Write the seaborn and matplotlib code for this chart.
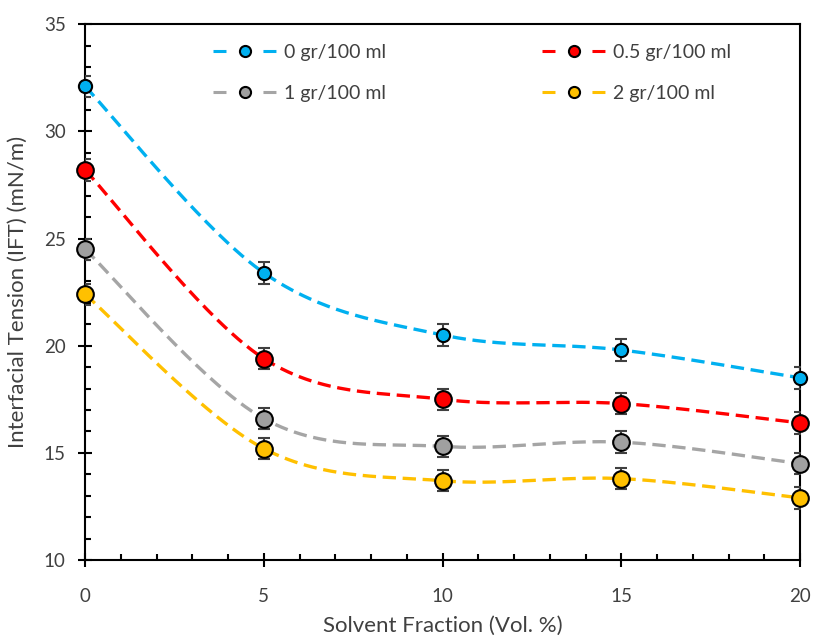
import numpy as np
import pandas as pd
import matplotlib
matplotlib.use("Agg")
import matplotlib.pyplot as plt
from matplotlib.lines import Line2D
from matplotlib.ticker import MultipleLocator
import seaborn as sns

# Measured interfacial tension vs. solvent fraction
solvent_fraction = [0, 5, 10, 15, 20]
ift_0 = [32.1, 23.4, 20.5, 19.8, 18.5]
ift_05 = [28.2, 19.4, 17.5, 17.3, 16.4]
ift_1 = [24.5, 16.6, 15.3, 15.5, 14.5]
ift_2 = [22.4, 15.2, 13.7, 13.8, 12.9]
ift_err = [0.5, 0.5, 0.5, 0.5, 0.5]
labels = ["0 gr/100 ml", "0.5 gr/100 ml", "1 gr/100 ml", "2 gr/100 ml"]

line_colors = ["#00B0F0", "#FF0000", "#A5A5A5", "#FFC000"]
face_colors = ["#00B0F0", "#FF0000", "#A0A0A0", "#FFC000"]
marker_sizes = [9.5, 12, 12, 12]


def smooth_curve(x, y, n=60):
    """Cardinal (Catmull-Rom) Bezier smoothing through the points."""
    x = np.asarray(x, float)
    y = np.asarray(y, float)
    pts = np.column_stack([x, y])
    out = []
    for i in range(len(pts) - 1):
        p0 = pts[i - 1] if i > 0 else pts[i]
        p1 = pts[i]
        p2 = pts[i + 1]
        p3 = pts[i + 2] if i + 2 < len(pts) else pts[i + 1]
        c1 = p1 + (p2 - p0) / 6.0
        c2 = p2 - (p3 - p1) / 6.0
        t = np.linspace(0, 1, n)[:, None]
        seg = ((1 - t) ** 3) * p1 + 3 * ((1 - t) ** 2) * t * c1 + 3 * (1 - t) * t ** 2 * c2 + t ** 3 * p2
        out.append(seg if i == 0 else seg[1:])
    seg = np.vstack(out)
    return seg[:, 0], seg[:, 1]


sns.set_style("white")
plt.rcParams["font.family"] = ["Lato", "DejaVu Sans"]

fig = plt.figure(figsize=(8.13, 6.35), dpi=100)
ax = fig.add_axes([0.1046, 0.118, 0.8795, 0.844])

series = [ift_0, ift_05, ift_1, ift_2]
for vals, lab, lc, fc, ms in zip(series, labels, line_colors, face_colors, marker_sizes):
    xs, ys = smooth_curve(solvent_fraction, vals)
    curve = pd.DataFrame({"x": xs, "y": ys})
    sns.lineplot(data=curve, x="x", y="y", ax=ax, color=lc, linewidth=2.4,
                 dashes=False, sort=False, estimator=None, zorder=2)
    ax.lines[-1].set_dashes((4.0, 2.0))
    ax.errorbar(solvent_fraction, vals, yerr=ift_err, fmt="none", ecolor="#404040",
                elinewidth=1.5, capsize=4.5, capthick=1.5, zorder=3)
    pts = pd.DataFrame({"x": solvent_fraction, "y": vals})
    sns.scatterplot(data=pts, x="x", y="y", ax=ax, color=fc, s=ms ** 2,
                    edgecolor="black", linewidth=1.5, zorder=4, clip_on=False)

ax.set_xlim(0, 20)
ax.set_ylim(10, 35)
ax.xaxis.set_major_locator(MultipleLocator(5))
ax.xaxis.set_minor_locator(MultipleLocator(1))
ax.yaxis.set_major_locator(MultipleLocator(5))
ax.yaxis.set_minor_locator(MultipleLocator(1))
ax.tick_params(which="major", direction="inout", length=10, width=1.5, color="black",
               labelsize=13.5, labelcolor="#404040", left=True, bottom=True)
ax.tick_params(axis="x", which="major", pad=15)
ax.tick_params(axis="y", which="major", pad=9)
ax.tick_params(which="minor", direction="in", length=4.5, width=1.5, color="black",
               left=True, bottom=True)
for sp in ax.spines.values():
    sp.set_color("black")
    sp.set_linewidth(1.5)

ax.set_xlabel("Solvent Fraction (Vol. %)", fontsize=16, color="#404040", labelpad=8)
ax.set_ylabel("Interfacial Tension (IFT) (mN/m)", fontsize=16, color="#404040", labelpad=11)

handles = []
for lc, fc in zip(line_colors, face_colors):
    h = Line2D([], [], color=lc, linewidth=2.2, dashes=(4.25, 12.1), marker="o",
               markersize=8, markerfacecolor=fc, markeredgecolor="black",
               markeredgewidth=1.5)
    handles.append(h)
order = [0, 2, 1, 3]
leg = ax.legend([handles[i] for i in order], [labels[i] for i in order], ncol=2,
                loc="upper left", bbox_to_anchor=(0.179, 0.963), frameon=False,
                fontsize=14, handlelength=3.25, handletextpad=0.42, columnspacing=8.0,
                labelspacing=1.25, numpoints=1, borderpad=0, borderaxespad=0)
for t in leg.get_texts():
    t.set_color("#404040")

fig.savefig("out.png", dpi=100)
